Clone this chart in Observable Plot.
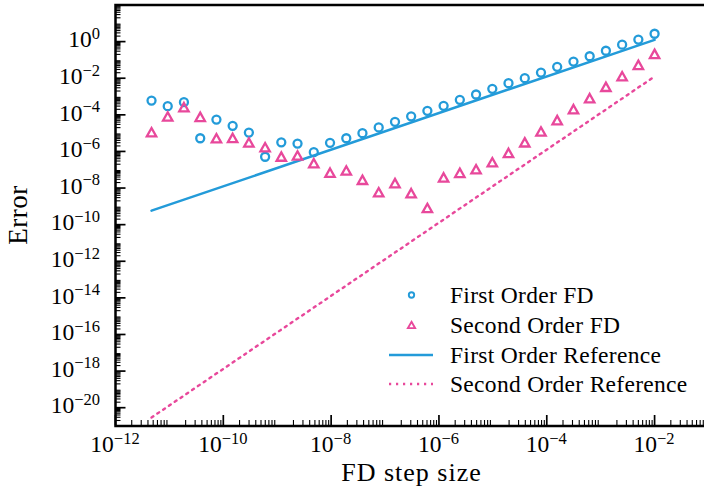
<!DOCTYPE html>
<html><head><meta charset="utf-8">
<script src="https://cdn.jsdelivr.net/npm/d3@7"></script>
<script src="https://cdn.jsdelivr.net/npm/@observablehq/plot@0.6"></script>
<style>
body{margin:0;background:#fff}
#chart svg{font-family:"Liberation Serif",serif;background:#fff}
</style>
</head><body><div id="chart"></div>
<script>
// ---- data ----
const stepSizes = [4.66e-12, 9.31e-12, 1.86e-11, 3.73e-11, 7.45e-11, 1.49e-10, 2.98e-10, 5.96e-10,
  1.19e-9, 2.38e-9, 4.77e-9, 9.54e-9, 1.91e-8, 3.81e-8, 7.63e-8, 1.53e-7,
  3.05e-7, 6.10e-7, 1.22e-6, 2.44e-6, 4.88e-6, 9.77e-6, 1.95e-5, 3.91e-5,
  7.81e-5, 1.56e-4, 3.13e-4, 6.25e-4, 1.25e-3, 2.5e-3, 5e-3, 1e-2];
const firstOrderLog = [-3.22, -3.53, -3.31, -5.28, -4.26, -4.60, -4.97, -6.29,
  -5.50, -5.57, -6.04, -5.53, -5.28, -5.00, -4.69, -4.38,
  -4.08, -3.78, -3.51, -3.18, -2.89, -2.58, -2.27, -2.00,
  -1.69, -1.38, -1.09, -0.80, -0.50, -0.17, 0.11, 0.43];
const secondOrderLog = [-4.95, -4.09, -3.58, -4.11, -5.28, -5.26, -5.51, -5.77,
  -6.28, -6.22, -6.64, -7.16, -7.04, -7.55, -8.23, -7.73,
  -8.28, -9.09, -7.42, -7.17, -6.97, -6.59, -6.08, -5.50,
  -4.91, -4.29, -3.69, -3.09, -2.47, -1.89, -1.27, -0.67];
const refStep = [4.66e-12, 1e-2];
const firstOrderRef = [5.8e-10, 1.25];
const secondOrderRef = [2.9e-21, 1.24e-2];
const seriesNames = ["First Order FD", "Second Order FD", "First Order Reference", "Second Order Reference"];
const xMajorTicks = [1e-12, 1e-10, 1e-8, 1e-6, 1e-4, 1e-2];
const xTickExponents = ["−12", "−10", "−8", "−6", "−4", "−2"];
const yMajorTicks = [1e0, 1e-2, 1e-4, 1e-6, 1e-8, 1e-10, 1e-12, 1e-14, 1e-16, 1e-18, 1e-20];
const yTickExponents = ["0", "−2", "−4", "−6", "−8", "−10", "−12", "−14", "−16", "−18", "−20"];
const xLabel = "FD step size";
const yLabel = "Error";

// ---- styling / layout ----
const BLUE = "#239bd9", PINK = "#e8489b";
const W = 704, H = 495, mL = 115, mT = 4.5, mB = 69.5, mR = -4;
const FH = H - mT - mB, FW = W - mL - mR;

const firstOrder = stepSizes.map((h, i) => ({h, e: Math.pow(10, firstOrderLog[i])}));
const secondOrder = stepSizes.map((h, i) => ({h, e: Math.pow(10, secondOrderLog[i])}));
const ref1 = refStep.map((h, i) => ({h, e: firstOrderRef[i]}));
const ref2 = refStep.map((h, i) => ({h, e: secondOrderRef[i]}));

const minorX = [];
for (let k = -12; k <= -2; k++) for (let m = 2; m <= 9; m++) minorX.push(m * Math.pow(10, k));
const minorY = [];
for (let k = -21; k <= 1; k++) for (let m = 2; m <= 9; m++) minorY.push(m * Math.pow(10, k));

const triangle = {
  draw(ctx, size) {
    const r = Math.sqrt(size / Math.PI);
    ctx.moveTo(0, -r); ctx.lineTo(r * 1.12, r); ctx.lineTo(-r * 1.12, r); ctx.closePath();
  }
};

const plot = Plot.plot({
  width: W, height: H,
  marginLeft: mL, marginRight: mR, marginTop: mT, marginBottom: mB,
  x: {type: "log", domain: [1e-12, 1e-1], axis: null},
  y: {type: "log", domain: [1e-21, 1e2], axis: null},
  marks: [
    Plot.tickX(minorX, {x: d => d, insetTop: FH - 5.5, stroke: "black", strokeWidth: 1.1}),
    Plot.tickX(xMajorTicks, {x: d => d, insetTop: FH - 10.5, stroke: "black", strokeWidth: 1.7}),
    Plot.tickY(minorY, {y: d => d, insetRight: FW - 5.5, stroke: "black", strokeWidth: 1.1}),
    Plot.tickY(yMajorTicks, {y: d => d, insetRight: FW - 10.5, stroke: "black", strokeWidth: 1.7}),
    Plot.line(ref2, {x: "h", y: "e", stroke: PINK, strokeWidth: 2.4, strokeDasharray: "2.2,4.8"}),
    Plot.line(ref1, {x: "h", y: "e", stroke: BLUE, strokeWidth: 2.5}),
    Plot.dot(firstOrder, {x: "h", y: "e", r: 4, stroke: BLUE, strokeWidth: 2.3, fill: "none"}),
    Plot.dot(secondOrder, {x: "h", y: "e", r: 4.2, symbol: triangle, stroke: PINK, strokeWidth: 2.3, fill: "none"}),
    Plot.frame({stroke: "black", strokeWidth: 2.5})
  ]
});
document.getElementById("chart").append(plot);

const svg = d3.select(plot);
const sx = plot.scale("x"), sy = plot.scale("y");
const TICK = 23.5, SUP = 16.5;

// x tick labels
const gx = svg.append("g").attr("font-size", TICK).attr("text-anchor", "middle");
xMajorTicks.forEach((v, i) => {
  const t = gx.append("text").attr("x", sx.apply(v)).attr("y", 452);
  t.append("tspan").text("10");
  t.append("tspan").attr("dy", -8.5).attr("font-size", SUP).text(xTickExponents[i]);
});
// y tick labels
const gy = svg.append("g").attr("font-size", TICK).attr("text-anchor", "end");
yMajorTicks.forEach((v, i) => {
  const t = gy.append("text").attr("x", 100).attr("y", sy.apply(v) + 6.3);
  t.append("tspan").text("10");
  t.append("tspan").attr("dy", -8.5).attr("font-size", SUP).text(yTickExponents[i]);
});
// axis labels
svg.append("text").attr("x", (mL + W - mR) / 2).attr("y", 481).attr("text-anchor", "middle")
  .attr("font-size", 26).attr("letter-spacing", 1).text(xLabel);
svg.append("text").attr("transform", `translate(27,${mT + FH / 2}) rotate(-90)`).attr("text-anchor", "middle")
  .attr("font-size", 27).attr("letter-spacing", 0.5).text(yLabel);

// legend
const lg = svg.append("g").attr("text-anchor", "start");
const rows = [295, 325, 355, 384];
lg.append("circle").attr("cx", 411.5).attr("cy", rows[0]).attr("r", 2.7)
  .attr("fill", "none").attr("stroke", BLUE).attr("stroke-width", 1.9);
lg.append("path").attr("transform", `translate(411.5,${rows[1]})`)
  .attr("d", "M0,-3.2L3.6,3.1L-3.6,3.1Z").attr("fill", "none").attr("stroke", PINK).attr("stroke-width", 1.9);
lg.append("line").attr("x1", 389).attr("x2", 433).attr("y1", rows[2]).attr("y2", rows[2])
  .attr("stroke", BLUE).attr("stroke-width", 2.5);
lg.append("line").attr("x1", 389).attr("x2", 433).attr("y1", rows[3]).attr("y2", rows[3])
  .attr("stroke", PINK).attr("stroke-width", 2.3).attr("stroke-dasharray", "2.2,4.8");
seriesNames.forEach((s, i) => {
  lg.append("text").attr("x", 450).attr("y", rows[i] + 7.6).attr("font-size", 23.5)
    .attr("letter-spacing", 0.3).text(s);
});
</script>
</body></html>
